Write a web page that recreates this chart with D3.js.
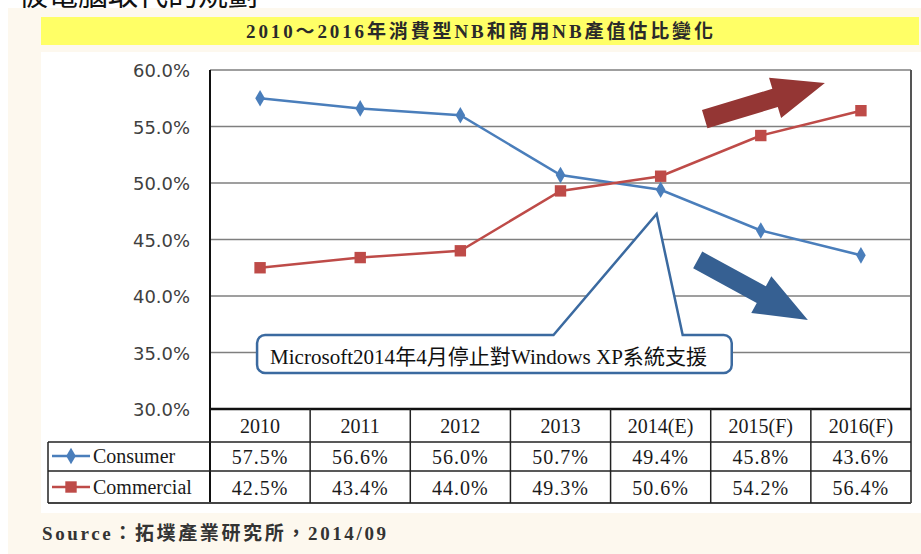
<!DOCTYPE html>
<html><head><meta charset="utf-8">
<script src="https://cdn.jsdelivr.net/npm/d3@7/dist/d3.min.js"></script>
<style>html,body{margin:0;padding:0;background:#fff;}svg{display:block;}</style>
</head><body>
<svg id="c" width="921" height="554"></svg>
<script>
const years = ["2010","2011","2012","2013","2014(E)","2015(F)","2016(F)"];
const consumer = [57.5,56.6,56.0,50.7,49.4,45.8,43.6];
const commercial = [42.5,43.4,44.0,49.3,50.6,54.2,56.4];
const yTicks = [30,35,40,45,50,55,60];
const seriesNames = ["Consumer","Commercial"];
const seriesColors = ["#4a7ebb","#be4b48"];
const titleText = "2010～2016年消費型NB和商用NB產值估比變化";
const calloutText = "Microsoft2014年4月停止對Windows XP系統支援";
const sourceText = "Source：拓墣產業研究所，2014/09";
const headText = "被電腦取代的規劃";

const svg = d3.select("#c");
const serif = "'Liberation Serif','Noto Sans CJK TC',serif";
const L = 210, R = 911, T = 70, B = 409;
const x = d3.scaleBand().domain(years).range([L, R]);
const xi = d3.scaleLinear().domain([0, years.length]).range([L, R]);
const y = d3.scaleLinear().domain([30, 60]).range([B, T]);

// top cut-off heading
svg.append("text").attr("x", 18).attr("y", 5).attr("font-size", 30)
  .attr("font-family", "'Noto Sans CJK TC'").attr("fill", "#111")
  .attr("textLength", 240).attr("lengthAdjust", "spacing").text(headText);
// cream panel
svg.append("rect").attr("x", 8).attr("y", 8).attr("width", 913).attr("height", 546).attr("fill", "#fdf8ee");
// yellow title bar
svg.append("rect").attr("x", 41).attr("y", 17).attr("width", 878).attr("height", 28).attr("fill", "#ffff66");
svg.append("text").attr("x", 246).attr("y", 38).attr("font-size", 19).attr("font-weight", "bold")
  .attr("font-family", serif).attr("fill", "#2a2a2a")
  .attr("textLength", 467).attr("lengthAdjust", "spacing").text(titleText);
// white panel
svg.append("rect").attr("x", 41).attr("y", 52).attr("width", 880).attr("height", 461).attr("fill", "#fff");

// gridlines
svg.append("g").selectAll("line").data(yTicks.filter(v => v > 30)).join("line")
  .attr("x1", L).attr("x2", R).attr("y1", d => y(d)).attr("y2", d => y(d))
  .attr("stroke", "#7f7f7f").attr("stroke-width", 1.5);
// y labels
svg.append("g").selectAll("text").data(yTicks).join("text")
  .attr("x", 190).attr("y", d => y(d) + 7).attr("text-anchor", "end")
  .attr("font-size", 18).attr("font-family", "'DejaVu Sans'").attr("fill", "#404040")
  .attr("textLength", 57).attr("lengthAdjust", "spacingAndGlyphs")
  .text(d => d.toFixed(1) + "%");
// right border
svg.append("line").attr("x1", R).attr("x2", R).attr("y1", T).attr("y2", 503).attr("stroke", "#555").attr("stroke-width", 2);

// callout
const cx0 = xi(0.47), cx1 = xi(5.21), cy0 = y(36.55), cy1 = y(33.19), r = 8;
const pA = xi(3.43), pB = xi(4.72), tipX = xi(4.46), tipY = y(47.26);
const cp = d3.path();
cp.moveTo(cx0 + r, cy0); cp.lineTo(pA, cy0); cp.lineTo(tipX, tipY); cp.lineTo(pB, cy0);
cp.lineTo(cx1 - r, cy0); cp.arcTo(cx1, cy0, cx1, cy0 + r, r); cp.lineTo(cx1, cy1 - r);
cp.arcTo(cx1, cy1, cx1 - r, cy1, r); cp.lineTo(cx0 + r, cy1); cp.arcTo(cx0, cy1, cx0, cy1 - r, r);
cp.lineTo(cx0, cy0 + r); cp.arcTo(cx0, cy0, cx0 + r, cy0, r); cp.closePath();
svg.append("path").attr("d", cp.toString()).attr("fill", "#fff").attr("stroke", "#3b6aa0").attr("stroke-width", 2.5);
svg.append("text").attr("x", cx0 + 13).attr("y", cy1 - 9).attr("font-size", 21).attr("font-family", serif)
  .attr("fill", "#111").attr("textLength", 437).attr("lengthAdjust", "spacingAndGlyphs").text(calloutText);

// block arrows
function arrow(t, p, sw, hw, hl, color) {
  const dx = p[0] - t[0], dy = p[1] - t[1], len = Math.hypot(dx, dy);
  const ux = dx / len, uy = dy / len, nx = -uy, ny = ux;
  const bx = p[0] - ux * hl, by = p[1] - uy * hl;
  const pts = [
    [t[0] + nx * sw, t[1] + ny * sw], [bx + nx * sw, by + ny * sw], [bx + nx * hw, by + ny * hw], p,
    [bx - nx * hw, by - ny * hw], [bx - nx * sw, by - ny * sw], [t[0] - nx * sw, t[1] - ny * sw]];
  svg.append("path").attr("d", d3.line()(pts) + "Z").attr("fill", color);
}
arrow([xi(4.94), y(55.66)], [xi(6.14), y(58.85)], 9.5, 21, 52, "#943634");
arrow([xi(4.87), y(43.19)], [xi(5.97), y(37.88)], 9.5, 21, 53, "#366092");

// series
const allSeries = [consumer, commercial];
const cxPos = (d, i) => x(years[i]) + x.bandwidth() / 2;
allSeries.forEach((vals, s) => {
  svg.append("path").datum(vals)
    .attr("d", d3.line().x(cxPos).y(d => y(d)))
    .attr("fill", "none").attr("stroke", seriesColors[s]).attr("stroke-width", 2.5);
  const sym = s === 0 ? d3.symbolDiamond : d3.symbolSquare;
  const size = s === 0 ? 80 : 130;
  svg.append("g").selectAll("path").data(vals).join("path")
    .attr("transform", (d, i) => `translate(${cxPos(d, i)},${y(d)})`)
    .attr("d", d3.symbol(sym, size)).attr("fill", seriesColors[s]);
});

// left axis line
svg.append("line").attr("x1", L).attr("x2", L).attr("y1", T).attr("y2", 503).attr("stroke", "#111").attr("stroke-width", 2);

// data table
const LL = 48;
const tg = svg.append("g");
tg.append("line").attr("x1", L).attr("x2", R).attr("y1", B).attr("y2", B).attr("stroke", "#111").attr("stroke-width", 2.5);
[442, 471].forEach(v => tg.append("line").attr("x1", LL).attr("x2", R).attr("y1", v).attr("y2", v).attr("stroke", "#222").attr("stroke-width", 1.5));
tg.append("line").attr("x1", LL).attr("x2", R).attr("y1", 503).attr("y2", 503).attr("stroke", "#444").attr("stroke-width", 2);
tg.append("line").attr("x1", LL).attr("x2", LL).attr("y1", 442).attr("y2", 503).attr("stroke", "#222").attr("stroke-width", 1.5);
years.forEach((yr, i) => {
  if (i > 0) tg.append("line").attr("x1", x(yr)).attr("x2", x(yr)).attr("y1", B).attr("y2", 503).attr("stroke", "#222").attr("stroke-width", 1.5);
});
const cellText = (txt, cx, cy, anchor) => tg.append("text").attr("x", cx).attr("y", cy)
  .attr("text-anchor", anchor || "middle").attr("font-size", 20).attr("font-family", serif)
  .attr("fill", "#1a1a1a").text(txt);
years.forEach((yr, i) => {
  const mx = x(yr) + x.bandwidth() / 2;
  cellText(yr, mx, 433);
  cellText(consumer[i].toFixed(1) + "%", mx, 464).attr("letter-spacing", 1);
  cellText(commercial[i].toFixed(1) + "%", mx, 495).attr("letter-spacing", 1);
});
seriesNames.forEach((n, s) => {
  const cy = s === 0 ? 456 : 487;
  tg.append("line").attr("x1", 52).attr("x2", 90).attr("y1", cy).attr("y2", cy).attr("stroke", seriesColors[s]).attr("stroke-width", 2.5);
  tg.append("path").attr("transform", `translate(71,${cy})`)
    .attr("d", d3.symbol(s === 0 ? d3.symbolDiamond : d3.symbolSquare, s === 0 ? 80 : 130)).attr("fill", seriesColors[s]);
  cellText(n, 93, cy + 7, "start");
});

// source
svg.append("text").attr("x", 42).attr("y", 540).attr("font-size", 19).attr("font-weight", "bold")
  .attr("font-family", serif).attr("fill", "#333")
  .attr("textLength", 344).attr("lengthAdjust", "spacing").text(sourceText);
</script>
</body></html>
